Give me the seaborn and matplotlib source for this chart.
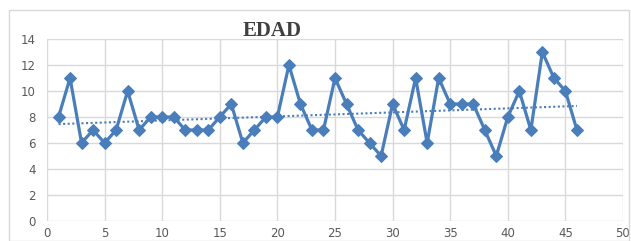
import matplotlib
matplotlib.use('Agg')
import matplotlib.pyplot as plt
import seaborn as sns
import pandas as pd
from matplotlib.patches import Rectangle

x_vals = list(range(1, 47))
edad = [8, 11, 6, 7, 6, 7, 10, 7, 8, 8, 8, 7, 7, 7, 8, 9, 6, 7, 8, 8,
        12, 9, 7, 7, 11, 9, 7, 6, 5, 9, 7, 11, 6, 11, 9, 9, 9, 7, 5, 8,
        10, 7, 13, 11, 10, 7]
x_ticks = [0, 5, 10, 15, 20, 25, 30, 35, 40, 45, 50]
y_ticks = [0, 2, 4, 6, 8, 10, 12, 14]

df = pd.DataFrame({'n': x_vals, 'edad': edad})

sns.set_style('white')
plt.rcParams['font.family'] = ['DejaVu Sans']

blue = '#4a7ebb'
fig = plt.figure(figsize=(6.31, 2.41), dpi=100)
ax = fig.add_axes([47 / 631, 20 / 241, 576 / 631, 182 / 241])

sns.lineplot(data=df, x='n', y='edad', ax=ax, color=blue, lw=2.3,
             marker='D', markersize=6, markeredgecolor=blue)
sns.regplot(data=df, x='n', y='edad', ax=ax, scatter=False, ci=None,
            color=blue, line_kws={'lw': 1.5, 'ls': (0, (1, 1.2))})

ax.set_xlim(0, 50)
ax.set_ylim(0, 14)
ax.set_xticks(x_ticks)
ax.set_yticks(y_ticks)
ax.grid(True, color='#d9d9d9', lw=1)
ax.set_axisbelow(True)
for s in ax.spines.values():
    s.set_visible(False)
ax.tick_params(length=0, labelsize=8.5, labelcolor='#595959')
ax.tick_params(axis='x', pad=4)
ax.tick_params(axis='y', pad=8)
ax.set_xlabel('')
ax.set_ylabel('')

fig.patches.append(Rectangle((9 / 631, 0), 620 / 631, 231 / 241,
                             transform=fig.transFigure, fill=False,
                             ec='#d9d9d9', lw=1))
fig.text(272 / 631, 210 / 241, 'EDAD', ha='center', va='center',
         fontsize=15, fontweight='bold', color='#404040', family='Liberation Serif')

fig.savefig('out.png', dpi=100)
